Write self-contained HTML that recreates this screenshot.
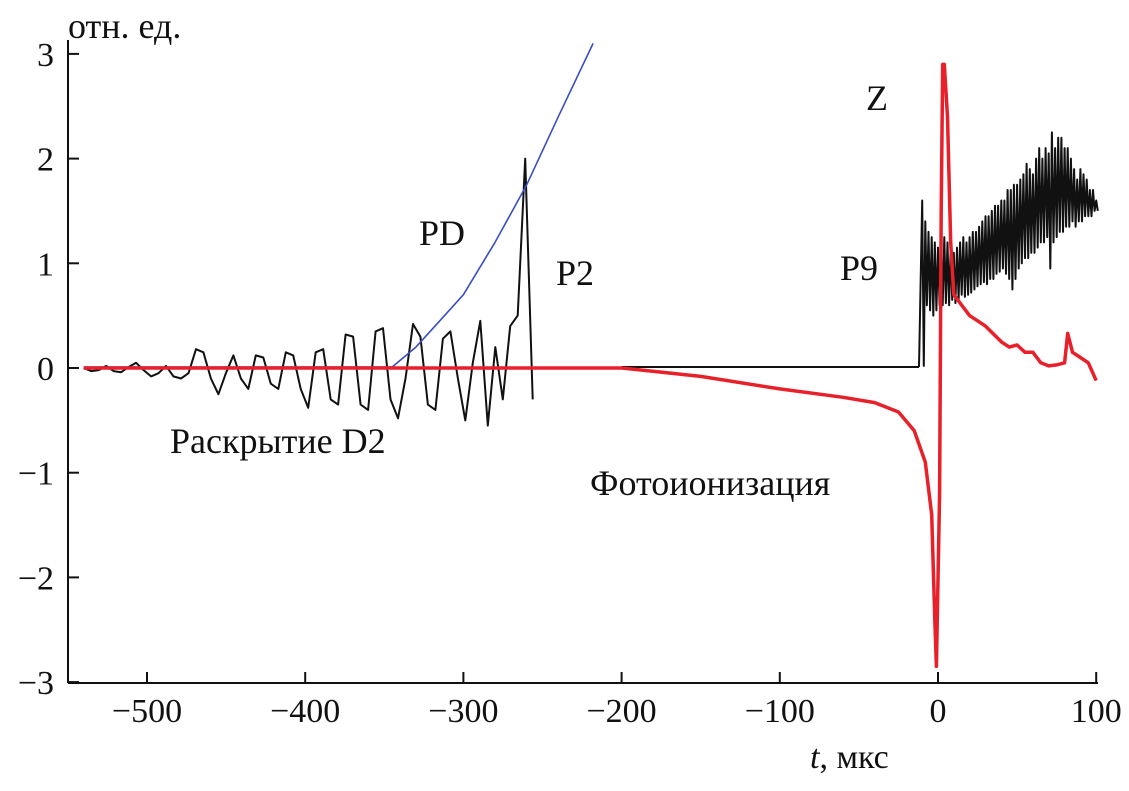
<!DOCTYPE html>
<html><head><meta charset="utf-8"><style>
body{margin:0;background:#fff}
svg text{font-family:"Liberation Serif","DejaVu Serif",serif;fill:#111}
</style></head><body>
<svg id="c" width="1129" height="786"></svg>
<script>
const xTicks=[-500,-400,-300,-200,-100,0,100];
const yTicks=[-3,-2,-1,0,1,2,3];
const d2T=-540, d2Step=4.73;
const d2Vals=[0,-0.03,-0.02,0.02,-0.03,-0.04,0.01,0.05,-0.02,-0.08,-0.05,0.02,-0.08,-0.1,-0.05,0.18,0.15,-0.1,-0.25,-0.05,0.12,-0.1,-0.2,0.12,0.1,-0.15,-0.2,0.15,0.12,-0.2,-0.38,0.15,0.18,-0.3,-0.35,0.32,0.3,-0.35,-0.4,0.35,0.38,-0.3,-0.48,-0.1,0.42,0.3,-0.35,-0.4,0.28,0.35,-0.1,-0.5,0.05,0.45,-0.55,0.2,-0.3,0.4,0.5,2.0,-0.3];
const p9T=-10, p9Step=2;
const p9Upper=[1.6,1.4,1.3,1.25,1.2,1.15,1.2,1.25,1.2,1.15,1.1,1.15,1.2,1.25,1.2,1.25,1.3,1.3,1.35,1.4,1.45,1.45,1.5,1.55,1.55,1.6,1.6,1.7,1.7,1.75,1.75,1.8,1.85,1.95,1.9,1.85,2.0,2.1,2.0,2.1,2.05,2.25,2.1,2.2,2.2,2.1,2.1,2.0,1.9,1.8,1.9,1.85,1.8,1.7,1.7,1.6];
const p9Lower=[0.02,0.6,0.55,0.5,0.55,0.6,0.6,0.62,0.6,0.65,0.62,0.65,0.7,0.68,0.7,0.72,0.75,0.78,0.8,0.82,0.8,0.85,0.85,0.9,0.92,0.95,0.9,0.85,0.75,0.85,0.95,1.0,1.05,1.05,1.1,1.1,1.15,1.2,1.2,1.25,0.95,1.2,1.25,1.3,1.3,1.35,1.35,1.4,1.35,1.4,1.4,1.45,1.45,1.45,1.5,1.5];
const redT=[-540,-200,-150,-100,-60,-40,-25,-15,-8,-4,-2,-1,1,2,3,4,6,8,10,15,20,30,40,45,50,55,60,65,70,75,80,82,85,90,95,100];
const redV=[0,0,-0.08,-0.2,-0.28,-0.33,-0.42,-0.6,-0.9,-1.4,-2.4,-2.85,-1.2,1.5,2.9,2.9,2.4,1.2,0.7,0.6,0.5,0.4,0.25,0.2,0.22,0.15,0.15,0.05,0.02,0.03,0.05,0.33,0.15,0.1,0.05,-0.12];
const blueT=[-540,-345,-330,-315,-300,-280,-260,-240,-218];
const blueV=[0.01,0.01,0.2,0.45,0.7,1.2,1.75,2.4,3.1];
const sx=t=>938+t*1.582, sy=v=>368-v*104.7;
const NS="http://www.w3.org/2000/svg", svg=document.getElementById('c');
function mk(tag,attrs,txt){const e=document.createElementNS(NS,tag);for(const k in attrs)e.setAttribute(k,attrs[k]);if(txt!==undefined)e.textContent=txt;svg.appendChild(e);return e;}
let e=mk('line',{x1:68,y1:683,x2:1098,y2:683,stroke:'#111','stroke-width':2});

e=mk('line',{x1:68,y1:40,x2:68,y2:683,stroke:'#111','stroke-width':2});

xTicks.forEach(t=>{
 let l=mk('line',{x1:sx(t),y1:683,x2:sx(t),y2:672,stroke:'#111','stroke-width':2});
 
 let s=mk('text',{x:sx(t),y:722,'font-size':34,'text-anchor':'middle'},(t<0?'\u2212':'')+Math.abs(t));
 
});
yTicks.forEach(v=>{
 let l=mk('line',{x1:68,y1:sy(v),x2:79,y2:sy(v),stroke:'#111','stroke-width':2});
 
 let s=mk('text',{x:54,y:sy(v)+12,'font-size':34,'text-anchor':'end'},(v<0?'\u2212':'')+Math.abs(v));
 
});
function path(pts,stroke,w,name){let p=mk('path',{d:'M'+pts.map(q=>sx(q[0]).toFixed(1)+','+sy(q[1]).toFixed(1)).join('L'),fill:'none',stroke:stroke,'stroke-width':w,'stroke-linejoin':'round'});
 return p;}
path(d2Vals.map((v,i)=>[d2T+i*d2Step,v]),'#111',2,'black-signal-d2');
path([[-200,0.01],[-12,0.01]],'#111',2,'black-baseline');
let pts=[];p9Upper.forEach((u,i)=>{const t=p9T+i*p9Step;pts.push([t,u]);pts.push([t+p9Step/2,p9Lower[i]]);});
path([[-12,0.01]].concat(pts),'#111',2,'black-signal-p9');
path(blueT.map((t,i)=>[t,blueV[i]]),'#3a4fbf',1.6,'blue-pd-curve');
path(redT.map((t,i)=>[t,redV[i]]),'#e8202a',3.5,'red-photoionization-curve');
const labels=[[68,38,'отн. ед.','y-axis-title'],[419,245,'PD','label-pd'],[556,285,'P2','label-p2'],[866,110,'Z','label-z'],[840,280,'P9','label-p9'],[170,453,'Раскрытие D2','label-d2'],[590,495,'Фотоионизация','label-photoionization']];
labels.forEach(a=>{let s=mk('text',{x:a[0],y:a[1],'font-size':36},a[2]);});
let xt=mk('text',{x:810,y:768,'font-size':34});

xt.innerHTML='<tspan font-style="italic">t</tspan>, мкс';
</script>
</body></html>
